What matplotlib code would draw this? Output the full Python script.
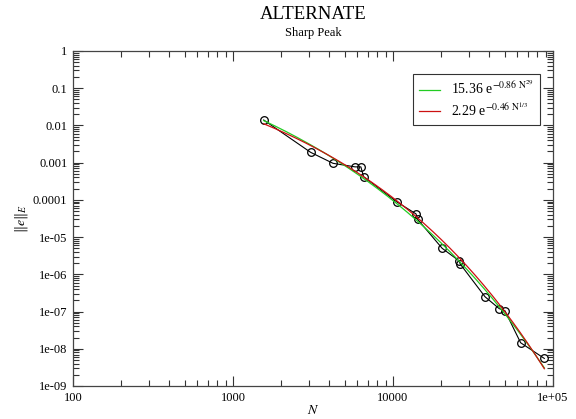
import numpy as np
import matplotlib
matplotlib.use("Agg")
import matplotlib.pyplot as plt
from matplotlib.ticker import FixedLocator, FixedFormatter, LogLocator, NullFormatter

plt.rcParams['font.family'] = ['Liberation Serif', 'DejaVu Serif']
plt.rcParams['mathtext.fontset'] = 'stix'

# measured error vs number of points
N_pts = [1556, 3060, 4220, 5800, 6300, 6550, 10540, 13930, 14260,
         20300, 25900, 26300, 37600, 46100, 50100, 62800, 88300]
err_pts = [0.0140, 0.00189, 0.00096, 0.00077, 0.00077, 0.00042, 8.9e-5, 4.2e-5, 3.0e-5,
           5.0e-6, 2.3e-6, 1.9e-6, 2.5e-7, 1.2e-7, 1.05e-7, 1.45e-8, 5.5e-9]

# fitted curves a * exp(-b * N^p)
fit_green = (15.36, 0.86, 0.286)
fit_red = (2.29, 0.46, 1.0 / 3.0)
green_label = r'15.36 e$^{-0.86\ \mathrm{N}^{29}}$'
red_label = r'2.29 e$^{-0.46\ \mathrm{N}^{1/3}}$'

xticks = [100, 1000, 10000, 100000]
xtick_labels = ['100', '1000', '10000', '1e+05']
yticks = [1e-9, 1e-8, 1e-7, 1e-6, 1e-5, 1e-4, 1e-3, 1e-2, 1e-1, 1]
ytick_labels = ['1e-09', '1e-08', '1e-07', '1e-06', '1e-05', '0.0001', '0.001', '0.01', '0.1', '1']

fig = plt.figure(figsize=(5.76, 4.19), dpi=100)
ax = fig.add_axes([0.1267, 0.0788, 0.8333, 0.7995])

Nf = np.logspace(np.log10(N_pts[0]), np.log10(N_pts[-1]), 200)
def fitcurve(c):
    a, b, p = c
    return a * np.exp(-b * Nf ** p)

ax.plot(N_pts, err_pts, color='black', lw=0.8, marker='o', ms=5.5,
        mfc='none', mec='black', mew=0.9, zorder=2)
ax.plot(Nf, fitcurve(fit_green), color='#22cc22', lw=0.9, label=green_label, zorder=3)
ax.plot(Nf, fitcurve(fit_red), color='#cc1111', lw=0.9, label=red_label, zorder=4)

ax.set_xscale('log')
ax.set_yscale('log')
ax.set_xlim(100, 1e5)
ax.set_ylim(1e-9, 1)

ax.xaxis.set_major_locator(FixedLocator(xticks))
ax.xaxis.set_major_formatter(FixedFormatter(xtick_labels))
ax.yaxis.set_major_locator(FixedLocator(yticks))
ax.yaxis.set_major_formatter(FixedFormatter(ytick_labels))
ax.xaxis.set_minor_locator(LogLocator(base=10, subs=np.arange(2, 10), numticks=20))
ax.yaxis.set_minor_locator(LogLocator(base=10, subs=np.arange(2, 10), numticks=20))
ax.xaxis.set_minor_formatter(NullFormatter())
ax.yaxis.set_minor_formatter(NullFormatter())
ax.tick_params(which='both', direction='in', top=True, right=True, labelsize=9,
               width=0.8, color='#333333')
ax.tick_params(which='major', length=7, pad=4)
ax.tick_params(which='minor', length=4)
for s in ax.spines.values():
    s.set_linewidth(0.9)
    s.set_color('#444444')

ax.set_xlabel(r'$N$', fontsize=10, labelpad=0)
ax.set_ylabel(r'$\Vert e\Vert_E$', fontsize=10, labelpad=2)

fig.text(0.5434, 0.966, 'ALTERNATE', ha='center', va='center', fontsize=13.5)
fig.text(0.5434, 0.921, 'Sharp Peak', ha='center', va='center', fontsize=9)

leg = ax.legend(loc='upper right', bbox_to_anchor=(0.973, 0.931), fontsize=10,
                frameon=True, fancybox=False, handlelength=1.5, borderpad=0.45,
                labelspacing=0.3, handletextpad=0.8, borderaxespad=0)
leg.get_frame().set_edgecolor('black')
leg.get_frame().set_linewidth(0.8)

fig.savefig('out.png', dpi=100)
